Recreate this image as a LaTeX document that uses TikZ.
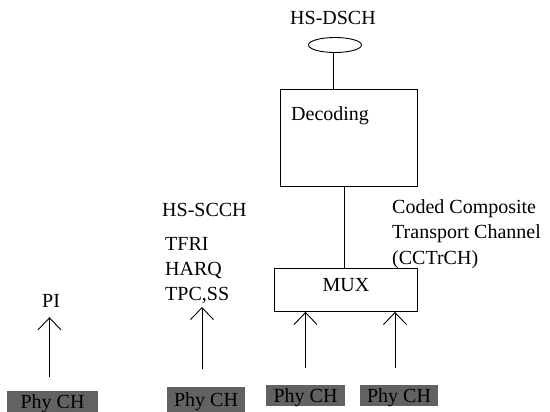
\documentclass[tikz,border=0pt]{standalone}
\usepackage{fontspec}
\setmainfont{Liberation Serif}
\usepackage{tikz}
\usetikzlibrary{positioning,arrows.meta,shapes.geometric}
\definecolor{phygray}{RGB}{98,98,98}
\tikzset{
  lbl/.style  = {anchor=base west, inner sep=0pt},
  blk/.style  = {draw, line width=0.9pt, inner sep=0pt},
  phy/.style  = {fill=phygray, inner sep=0pt, text depth=0pt,
                 minimum height=21pt},
  upar/.style = {-{Straight Barb[length=12pt, width=23pt]}, line width=0.9pt},
  ln/.style   = {line width=0.9pt},
}
\begin{document}
\begin{tikzpicture}[x=1pt, y=-1pt, font=\fontsize{20}{24}\selectfont]
\useasboundingbox (0,0) rectangle (550,412);

% ===== DECODING CHAIN =====
\node[lbl] (hsdsch) at (290,25) {HS-DSCH};
\node[blk, ellipse, minimum width=53pt, minimum height=15pt] (ell) at (335,45) {};
\node[blk, anchor=north west, minimum width=137pt, minimum height=97pt] (dec) at (280,89) {};
\node[lbl] (declbl) at (291,121) {Decoding};
\node[blk, anchor=north west, minimum width=143pt, text height=14pt,
      text depth=11pt, inner ysep=9pt] (mux) at (274,268) {MUX};
\node[lbl] (cct1) at (392,214) {Coded Composite};
\node[lbl] (cct2) at (392,239) {Transport Channel};
\node[lbl] (cct3) at (392,264) {(CCTrCH)};

% ===== CONTROL CHANNELS =====
\node[lbl] (pi) at (42,307) {PI};
\node[lbl] (hsscch) at (162,217) {HS-SCCH};
\node[lbl] (tfri) at (165,251) {TFRI};
\node[lbl] (harq) at (165,275) {HARQ};
\node[lbl] (tpc) at (165,300) {TPC,SS};

% ===== PHYSICAL CHANNELS =====
\node[phy, minimum width=91pt] (phy1) at (52.5,401.5) {Phy CH};
\node[phy, minimum width=78pt, minimum height=25pt] (phy2) at (206,399.5) {Phy CH};
\node[phy, minimum width=79pt] (phy3) at (305.5,395.5) {Phy CH};
\node[phy, minimum width=78pt] (phy4) at (399,395.5) {Phy CH};

% ===== connections =====
\draw[ln] (ell.south -| 333,0) -- (333,0 |- dec.north);
\draw[ln] ([xshift=-2]mux.north) -- ([xshift=-2]mux.north |- dec.south);
\draw[upar, shorten <=14pt, shorten >=10pt] ([xshift=-3]phy1.north) -- ([xshift=-3]phy1.north |- pi.south);
\draw[upar, shorten <=18pt, shorten >=7pt] ([xshift=-4]phy2.north) -- ([xshift=-4]phy2.north |- tpc.base);
\draw[upar, shorten <=17pt] (phy3.north) -- (phy3.north |- mux.south);
\draw[upar, shorten <=17pt] ([xshift=-4]phy4.north) -- ([xshift=-4]phy4.north |- mux.south);
\end{tikzpicture}
\end{document}
